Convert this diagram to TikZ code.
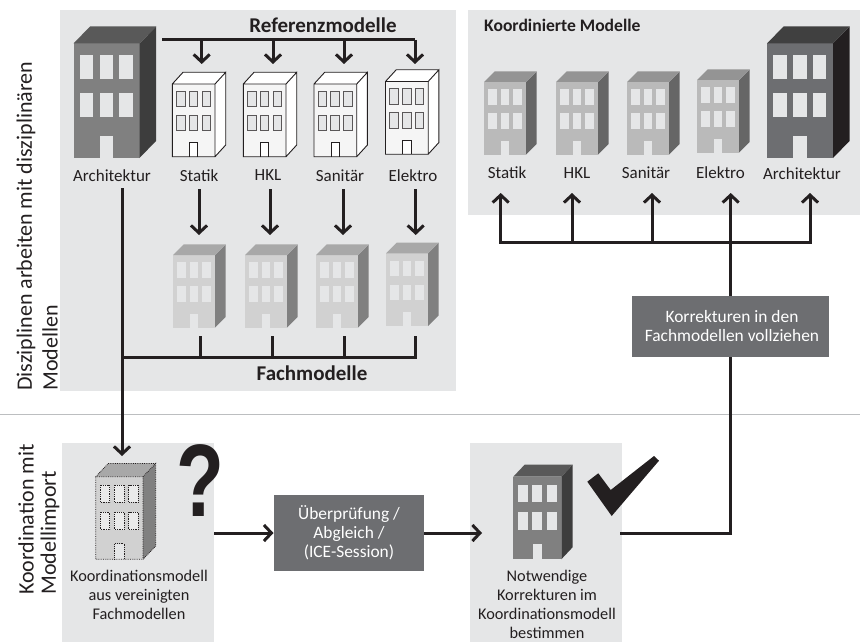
\documentclass[tikz,border=0pt]{standalone}
\usepackage{fontspec}
\setmainfont{Carlito}
\newfontfamily\qfont{Liberation Sans}
\usetikzlibrary{arrows.meta}
\definecolor{panelc}{HTML}{E5E6E7}
\definecolor{inkc}{HTML}{231F20}
\definecolor{boxc}{HTML}{6D6E71}
\definecolor{rulec}{HTML}{BCBEC0}
\tikzset{
  panel/.style={fill=panelc,draw=none},
  conn/.style={draw=inkc,line width=3pt},
  arr/.style={conn,-{Straight Barb[length=7.5pt,width=16pt,line width=3pt]}},
  lab/.style={font=\fontsize{17}{19}\selectfont,text=inkc,align=center,inner sep=0pt},
  labtwo/.style={font=\fontsize{16.3}{19}\selectfont,text=inkc,align=center,inner sep=0pt},
  sidelab/.style={font=\fontsize{22}{24}\selectfont,text=inkc,rotate=90,anchor=west,inner sep=0pt},
  title/.style={font=\fontsize{21}{19}\selectfont\bfseries,text=inkc,inner sep=0pt},
  titlesmall/.style={font=\fontsize{17.6}{19}\selectfont\bfseries,text=inkc,inner sep=0pt},
  darkbox/.style={fill=boxc,text=white,align=center,inner sep=0pt,font=\fontsize{17.4}{19}\selectfont},
}
\newcommand{\bld}[9]{%
  \def\bx{#1}\def\by{#2}\def\bw{#3}\def\bh{#4}\def\bdx{#5}\def\bdy{#6}%
  \fill[#7] (\bx,\by) rectangle ++(\bw,\bh);
  \fill[#8] (\bx+\bw,\by) -- ++(\bdx,-\bdy) -- ++(0,\bh) -- ++(-\bdx,\bdy) -- cycle;
  \fill[#9] (\bx,\by) -- ++(\bdx,-\bdy) -- ++(\bw,0) -- ++(-\bdx,\bdy) -- cycle;
  }
\newcommand{\bldwin}[2]{%
  \foreach \wx in {0.095,0.395,0.695}{\foreach \wy in {0.10,0.43}{
    \path[#1] (\bx+\wx*\bw,\by+\wy*\bh) rectangle ++(0.205*\bw,0.21*\bh);}}
  \path[#2] (\bx+0.40*\bw,\by+\bh) -- ++(0,-0.19*\bh) -- ++(0.20*\bw,0) -- ++(0,0.19*\bh);
  }
\newcommand{\bldline}[1]{%
  \draw[#1,line join=miter] (\bx,\by) rectangle ++(\bw,\bh)
   (\bx+\bw,\by) -- ++(\bdx,-\bdy) -- ++(0,\bh) -- ++(-\bdx,\bdy)
   (\bx,\by) -- ++(\bdx,-\bdy) -- ++(\bw,0);}
\newcommand{\bigbld}[4]{\bld{#1}{43.5}{66}{114.5}{16.5}{17}{#2}{#3}{#4}\bldwin{fill=panelc}{fill=panelc}}
\newcommand{\whitebld}[2]{\bld{#1}{#2}{42.7}{72.7}{10.7}{11.7}{fill=white}{fill=white}{fill=white}%
  \fill[panelc!40] (\bx,\by) rectangle ++(\bw,\bh);
  \bldwin{fill=panelc,draw=inkc!75,line width=.9pt}{fill=white,draw=inkc,line width=.9pt}\bldline{draw=inkc,line width=.9pt}}
\newcommand{\fachbld}[2]{\bld{#1}{#2}{42}{72.7}{10.7}{10.7}{fill=black!18}{fill=black!50}{fill=black!34}\bldwin{fill=panelc}{fill=panelc}}
\newcommand{\koobld}[2]{\bld{#1}{#2}{42}{72.7}{10.7}{10.7}{fill=black!27}{fill=black!60}{fill=black!42}\bldwin{fill=panelc}{fill=panelc}}
\begin{document}
\begin{tikzpicture}[x=1pt,y=-1pt]
\useasboundingbox (0,0) rectangle (860,642);
\path[panel] (60,10) rectangle (456,391);
\path[panel] (468,10) rectangle (860,215);
\path[panel] (62,443) rectangle (214,642);
\path[panel] (470,443) rectangle (622,642);
\draw[rulec,line width=.8pt] (0,414) -- (860,414);
\node[sidelab] (dis1) at (26,391) {Disziplinen arbeiten mit disziplinären};
\node[sidelab] (dis2) at (50,391) {Modellen};
\node[sidelab] (koo1) at (26,595) {Koordination mit};
\node[sidelab] (koo2) at (50,595) {Modellimport};
\bigbld{73.5}{fill=black!50}{fill=black!76}{fill=black!65}
\whitebld{172.3}{84}
\whitebld{243.3}{84}
\whitebld{314}{84}
\whitebld{385.5}{81.5}
\fachbld{173}{255}
\fachbld{245}{255}
\fachbld{316}{255}
\fachbld{386}{253.3}
\koobld{484}{82}
\koobld{556}{82}
\koobld{627}{82}
\koobld{697}{80}
\bigbld{767}{fill=boxc}{fill=inkc}{fill=black!75}
\bld{95.7}{476.7}{47.3}{82.6}{12.7}{13.3}{fill=black!18}{fill=black!50}{fill=black!34}
\bldwin{draw=inkc,densely dotted,line width=.8pt,fill=panelc!60!black!18}{draw=inkc,densely dotted,line width=.8pt,fill=panelc}
\bldline{draw=inkc,densely dotted,line width=.8pt}
\bld{513.3}{476.7}{48}{82.6}{11.3}{12}{fill=black!50}{fill=black!76}{fill=black!65}
\bldwin{fill=panelc}{fill=panelc}
\node[title] (tref) at (323,25) {Referenzmodelle};
\node[title] (tfach) at (312,373) {Fachmodelle};
\node[titlesmall,anchor=west] (tkoo) at (484,25) {Koordinierte Modelle};
\node[lab] (lA) at (112,176) {Architektur};
\node[lab] (lS) at (199,175.5) {Statik};
\node[lab] (lH) at (268,175.5) {HKL};
\node[lab] (lSa) at (340,175.5) {Sanitär};
\node[lab] (lE) at (413,175.5) {Elektro};
\node[lab] (rS) at (507,173) {Statik};
\node[lab] (rH) at (577,173) {HKL};
\node[lab] (rSa) at (646,173) {Sanitär};
\node[lab] (rE) at (720.5,172.5) {Elektro};
\node[lab] (rA) at (802,174) {Architektur};
\node[labtwo] (lK) at (139,595) {Koordinationsmodell\\aus vereinigten\\Fachmodellen};
\node[labtwo] (lN) at (547,604.5) {Notwendige\\Korrekturen im\\Koordinationsmodell\\bestimmen};
\node[darkbox,minimum width=150pt,minimum height=76pt] (pruef) at (349,533) {Überprüfung /\\Abgleich /\\(ICE-Session)};
\node[darkbox,minimum width=197pt,minimum height=61pt] (korr) at (730.5,326.5) {\hspace*{3pt}Korrekturen in den\\\hspace*{3pt}Fachmodellen vollziehen};
\node[inner sep=0pt,font=\qfont\bfseries\fontsize{103}{103}\selectfont,text=inkc,xscale=.76,transform shape] (quest) at (200,481) {?};
\fill[inkc] (587.3,481.7) -- (598.3,473.3) -- (610.7,490) -- (654,456) -- (659,460.7) -- (611.7,516) -- cycle;
\coordinate (rb0) at (162,40);
\coordinate (rb1) at (415,40);
\foreach \n/\x in {a/201.7,b/273,c/344,d/415}{
  \coordinate (rt\n) at (\x,40);
  \coordinate (re\n) at (\x,64);
}
\foreach \n/\x in {a/199,b/270,c/343,d/415.7}{
  \coordinate (ds\n) at (\x,189);
  \coordinate (de\n) at (\x,235);
}
\foreach \n/\x in {a/200.7,b/272.7,c/344,d/415.5}{
  \coordinate (fs\n) at (\x,336);
  \coordinate (fe\n) at (\x,357);
}
\coordinate (archS) at (122,188);
\coordinate (archJ) at (122,357);
\coordinate (archE) at (122,456);
\foreach \n/\x in {a/500.7,b/572,c/652,d/730.7,e/810}{
  \coordinate (ub\n) at (\x,242);
  \coordinate (ut\n) at (\x,193);
}
\coordinate (kS) at (214,533);
\coordinate (kE) at (273.5,533);
\coordinate (pE) at (482,533);
\coordinate (nS) at (620,533);
\coordinate (nC) at (730.7,533);
\draw[conn] (rb0) -- (rb1);
\foreach \n in {a,b,c,d}{\draw[arr] (rt\n) -- (re\n);}
\foreach \n in {a,b,c,d}{\draw[arr] (ds\n) -- (de\n);}
\foreach \n in {a,b,c,d}{\draw[conn] (fs\n) -- (fe\n);}
\draw[conn,line cap=rect] (archJ) -- (fed);
\draw[arr] (archS) -- (archE);
\foreach \n in {a,b,c,d,e}{\draw[arr] (ub\n) -- (ut\n);}
\draw[conn,line cap=rect] (uba) -- (ube);
\draw[conn] (ubd) -- (korr.north -| ubd);
\draw[conn] (nS) -- (nC) -- (korr.south -| nC);
\draw[arr] (kS) -- (kE);
\draw[arr] (pruef.east) -- (pE);
\end{tikzpicture}
\end{document}
